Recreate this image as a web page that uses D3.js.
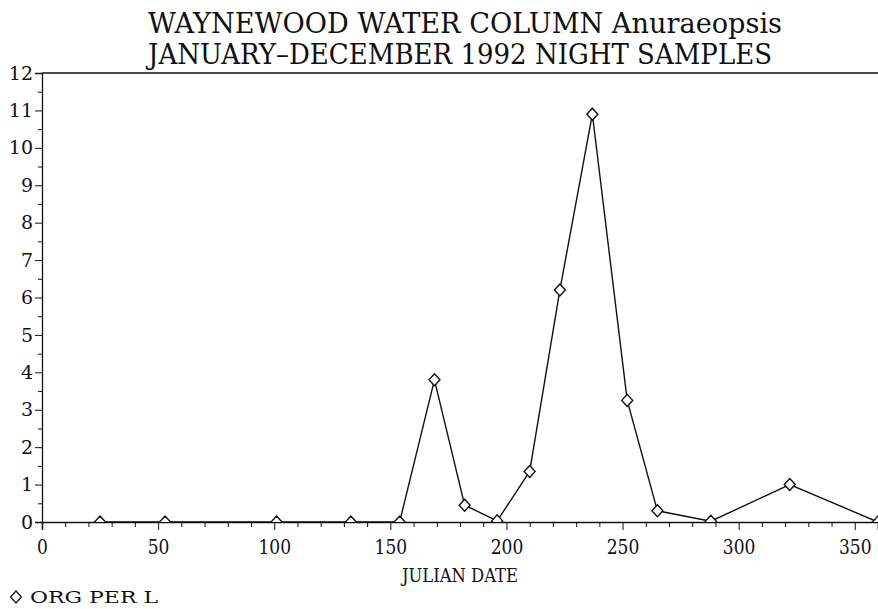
<!DOCTYPE html>
<html><head><meta charset="utf-8">
<script src="https://cdn.jsdelivr.net/npm/d3@7"></script>
<style>body{margin:0;background:#fff}svg{display:block}text{font-family:"DejaVu Serif",serif;fill:#111}</style>
</head><body><svg id="c" width="878" height="609"></svg>
<script>
const titleLines = ["WAYNEWOOD WATER COLUMN Anuraeopsis", "JANUARY\u2013DECEMBER 1992 NIGHT SAMPLES"];
const julianDays = [25, 53, 101, 133, 154, 169, 182, 196, 210, 223, 237, 252, 265, 288, 322, 360];
const orgPerL   = [0, 0, 0, 0, 0, 3.8, 0.45, 0.03, 1.35, 6.2, 10.9, 3.25, 0.3, 0.02, 1.0, 0];
const xTicks = [0, 50, 100, 150, 200, 250, 300, 350];
const yTicks = [0,1,2,3,4,5,6,7,8,9,10,11,12];
const xLabel = "JULIAN DATE";
const legendLabel = "ORG PER L";

const svg = d3.select("#c");
const L = 42, R = 878, T = 73, B = 522;
const x = d3.scaleLinear().domain([0, 360]).range([L, R]);
const y = d3.scaleLinear().domain([0, 12]).range([B, T]);
const ink = "#111";

// titles
svg.append("text").attr("x", 465).attr("y", 33).attr("text-anchor","middle")
  .attr("font-size", 27).attr("textLength", 634).attr("lengthAdjust","spacingAndGlyphs").text(titleLines[0]);
svg.append("text").attr("x", 460).attr("y", 64).attr("text-anchor","middle")
  .attr("font-size", 27).attr("textLength", 624).attr("lengthAdjust","spacingAndGlyphs").text(titleLines[1]);

// frame: top line
svg.append("line").attr("x1", L).attr("x2", R).attr("y1", T).attr("y2", T).attr("stroke", ink).attr("stroke-width", 1.6);

// y axis
const yAxis = d3.axisLeft(y).tickValues(yTicks).tickSize(7).tickPadding(2).tickFormat(d3.format("d"));
const gy = svg.append("g").attr("transform", `translate(${L},0)`).call(yAxis);
gy.select(".domain").attr("stroke", ink).attr("stroke-width", 1.3);
gy.selectAll(".tick line").attr("stroke", ink);
gy.selectAll(".tick text").attr("font-size", 19).attr("font-family","DejaVu Serif").attr("fill", ink);
const yMinor = d3.range(0.5, 12, 1);
svg.append("g").attr("transform", `translate(${L},0)`).call(d3.axisLeft(y).tickValues(yMinor).tickSize(4).tickFormat(""))
  .call(g => { g.select(".domain").remove(); g.selectAll("line").attr("stroke", ink); });

// x axis
const xAxis = d3.axisBottom(x).tickValues(xTicks).tickSize(8).tickPadding(9).tickFormat(d3.format("d"));
const gx = svg.append("g").attr("transform", `translate(0,${B})`).call(xAxis);
gx.select(".domain").attr("stroke", ink).attr("stroke-width", 1.6);
gx.selectAll(".tick line").attr("stroke", ink);
gx.selectAll(".tick text").attr("font-size", 19).attr("font-family","DejaVu Serif").attr("fill", ink)
  .attr("transform","scale(0.9,1.05)")
  .attr("x", 0);
const xMinor = d3.range(10, 360, 10).filter(v => v % 50 !== 0);
svg.append("g").attr("transform", `translate(0,${B})`).call(d3.axisBottom(x).tickValues(xMinor).tickSize(5).tickFormat(""))
  .call(g => { g.select(".domain").remove(); g.selectAll("line").attr("stroke", ink); });

svg.append("text").attr("x", 460).attr("y", 582).attr("text-anchor","middle").attr("font-size", 18)
  .attr("textLength", 116).attr("lengthAdjust","spacingAndGlyphs").text(xLabel);

// data
const pts = julianDays.map((d, i) => [d, orgPerL[i]]);
svg.append("defs").append("clipPath").attr("id","plotclip").append("rect")
  .attr("x", L).attr("y", T - 10).attr("width", R - L + 10).attr("height", B - T + 10);
svg.append("path").datum(pts).attr("fill","none").attr("stroke", ink).attr("stroke-width", 1.4)
  .attr("d", d3.line().x(d => x(d[0])).y(d => y(d[1])));
const diamond = "M0,-6L5.5,0L0,6L-5.5,0Z";
svg.append("g").attr("clip-path","url(#plotclip)").selectAll("path").data(pts).join("path")
  .attr("d", diamond).attr("transform", d => `translate(${x(d[0])},${y(d[1])})`)
  .attr("fill","#fff").attr("stroke", ink).attr("stroke-width", 1.4);

// legend
svg.append("path").attr("d", diamond).attr("transform","translate(16,597)").attr("fill","none").attr("stroke", ink).attr("stroke-width",1.2);
svg.append("text").attr("x", 30).attr("y", 603).attr("font-size", 17).attr("textLength", 128).attr("lengthAdjust","spacingAndGlyphs").text(legendLabel);
</script></body></html>
